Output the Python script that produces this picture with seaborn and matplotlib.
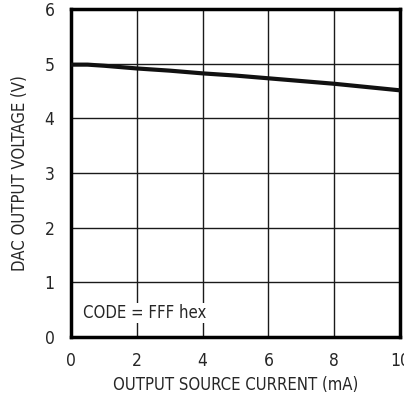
import matplotlib
matplotlib.use("Agg")
import matplotlib.pyplot as plt
from matplotlib import font_manager
import seaborn as sns
import pandas as pd

# Output voltage vs. source current, code = FFF hex
current_ma = [0.0, 0.5, 1.0, 2.0, 3.0, 4.0, 5.0, 6.0, 7.0, 8.0, 9.0, 10.0]
voltage_v = [4.98, 4.98, 4.96, 4.91, 4.87, 4.82, 4.78, 4.73, 4.68, 4.63, 4.57, 4.51]
x_ticks = [0, 2, 4, 6, 8, 10]
y_ticks = [0, 1, 2, 3, 4, 5, 6]

sns.set_theme(style="white")
names = {f.name for f in font_manager.fontManager.ttflist}
fam = [n for n in ["Liberation Sans Narrow", "DejaVu Sans Condensed"] if n in names]
plt.rcParams["font.family"] = fam + ["DejaVu Sans"]
plt.rcParams["font.stretch"] = "condensed"

df = pd.DataFrame({"current": current_ma, "voltage": voltage_v})

fig = plt.figure(figsize=(4.04, 4.03), dpi=100)
ax = fig.add_axes([0.176, 0.164, 0.814, 0.814])

sns.lineplot(data=df, x="current", y="voltage", ax=ax, color="#111111",
             linewidth=3, zorder=3)

ax.set_xlim(0, 10)
ax.set_ylim(0, 6)
ax.set_xticks(x_ticks)
ax.set_yticks(y_ticks)
ax.set_xticklabels([str(t) for t in x_ticks], fontsize=12.5)
ax.set_yticklabels([str(t) for t in y_ticks], fontsize=12.5)
ax.tick_params(axis="y", length=0, pad=12)
ax.tick_params(axis="x", length=0, pad=11)
ax.grid(True, color="#1a1a1a", linewidth=1)
ax.set_axisbelow(True)
for s in ax.spines.values():
    s.set_color("black")
    s.set_linewidth(2.5)

ax.set_xlabel("OUTPUT SOURCE CURRENT (mA)", fontsize=12, labelpad=4)
ax.set_ylabel("DAC OUTPUT VOLTAGE (V)", fontsize=12, labelpad=11)

ax.text(0.36, 0.44, "CODE = FFF hex", fontsize=12, va="center", ha="left",
        bbox=dict(facecolor="white", edgecolor="none", pad=1), zorder=4)

fig.savefig("out.png", dpi=100)
